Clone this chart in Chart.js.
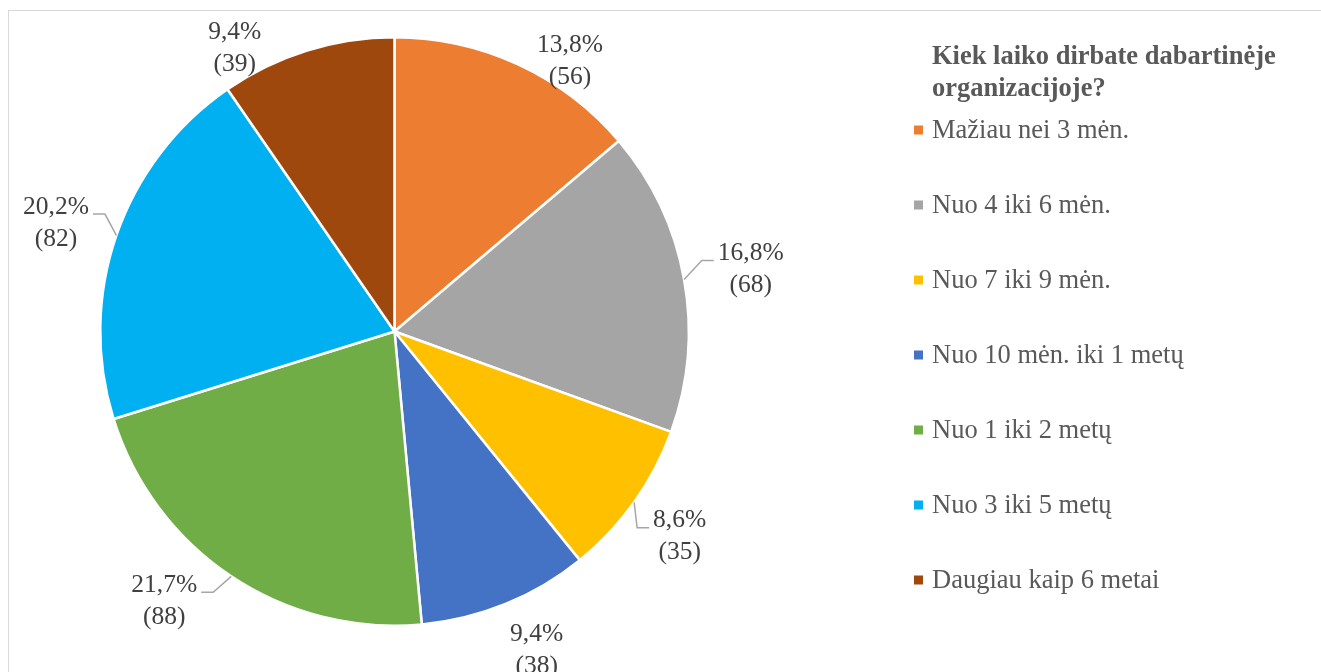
<!DOCTYPE html>
<html>
<head>
<meta charset="utf-8">
<title>Kiek laiko dirbate dabartinėje organizacijoje?</title>
<script src="https://cdn.jsdelivr.net/npm/chart.js@4.4.1/dist/chart.umd.min.js"></script>
<style>
    html, body { margin: 0; padding: 0; background: #fff; }
</style>
</head>
<body>
<canvas id="tenureChart" width="1321" height="672"></canvas>
<script>
// ------------------------------------------------------------------
//  Data
// ------------------------------------------------------------------
const categories = [
    'Mažiau nei 3 mėn.',
    'Nuo 4 iki 6 mėn.',
    'Nuo 7 iki 9 mėn.',
    'Nuo 10 mėn. iki 1 metų',
    'Nuo 1 iki 2 metų',
    'Nuo 3 iki 5 metų',
    'Daugiau kaip 6 metai'
];
const counts = [56, 68, 35, 38, 88, 82, 39];
const percentText = ['13,8%', '16,8%', '8,6%', '9,4%', '21,7%', '20,2%', '9,4%'];
const legendTitle = ['Kiek laiko dirbate dabartinėje', 'organizacijoje?'];

const sliceColors = ['#ED7D31', '#A5A5A5', '#FFC000', '#4472C4', '#70AD47', '#00B0F0', '#9E480E'];

// label placement: [angle shift in degrees, distance as share of radius]
const labelNudge = [[8, 1.10], [0, 1.23], [0, 1.19], [-2, 1.18], [7, 1.20], [-1, 1.21], [-12, 1.11]];
const withLeader = [false, true, true, false, true, true, false];

const SERIF = '"Liberation Serif", "Times New Roman", serif';

// ------------------------------------------------------------------
//  Plugins: outer frame, data labels, legend
// ------------------------------------------------------------------
const framePlugin = {
    id: 'frame',
    beforeDraw(chart) {
        const ctx = chart.ctx;
        ctx.save();
        ctx.fillStyle = '#fff';
        ctx.fillRect(0, 0, chart.width, chart.height);
        ctx.strokeStyle = '#D9D9D9';
        ctx.lineWidth = 1;
        ctx.strokeRect(8.5, 10.5, chart.width + 20, chart.height + 20);
        ctx.restore();
    }
};

const sliceLabels = {
    id: 'sliceLabels',
    afterDatasetsDraw(chart) {
        const ctx = chart.ctx;
        const arcs = chart.getDatasetMeta(0).data;
        ctx.save();
        ctx.font = '25.5px ' + SERIF;
        ctx.textAlign = 'center';
        ctx.textBaseline = 'middle';
        arcs.forEach((arc, i) => {
            const { x, y, startAngle, endAngle, outerRadius } = arc.getProps(['x', 'y', 'startAngle', 'endAngle', 'outerRadius'], true);
            const mid = (startAngle + endAngle) / 2;
            const [shift, dist] = labelNudge[i];
            const a = mid + shift * Math.PI / 180;
            const lx = x + dist * outerRadius * Math.cos(a);
            const ly = y + dist * outerRadius * Math.sin(a);
            const lines = [percentText[i], '(' + counts[i] + ')'];

            ctx.fillStyle = '#404040';
            ctx.fillText(lines[0], lx, ly - 14);
            ctx.fillText(lines[1], lx, ly + 18);

            if (withLeader[i]) {
                const w = Math.max(...lines.map(t => ctx.measureText(t).width));
                const right = Math.cos(mid) > 0;
                const edge = right ? lx - w / 2 - 4 : lx + w / 2 + 4;
                const elbow = right ? edge - 12 : edge + 12;
                const ey = ly - 7;
                ctx.beginPath();
                ctx.moveTo(edge, ey);
                ctx.lineTo(elbow, ey);
                ctx.lineTo(x + outerRadius * Math.cos(mid), y + outerRadius * Math.sin(mid));
                ctx.strokeStyle = '#A6A6A6';
                ctx.lineWidth = 1.5;
                ctx.stroke();
            }
        });
        ctx.restore();
    }
};

const sideLegend = {
    id: 'sideLegend',
    afterDraw(chart) {
        const ctx = chart.ctx;
        const colors = chart.data.datasets[0].backgroundColor;
        ctx.save();
        ctx.textAlign = 'left';
        ctx.textBaseline = 'alphabetic';
        ctx.fillStyle = '#595959';
        ctx.font = 'bold 26.5px ' + SERIF;
        legendTitle.forEach((t, i) => ctx.fillText(t, 932, 64 + i * 32));

        ctx.font = '26.5px ' + SERIF;
        ctx.textBaseline = 'middle';
        chart.data.labels.forEach((label, i) => {
            const cy = 130 + i * 75;
            ctx.fillStyle = colors[i];
            ctx.fillRect(914, cy - 4.5, 9, 9);
            ctx.fillStyle = '#595959';
            ctx.fillText(label, 932, cy + 1);
        });
        ctx.restore();
    }
};

// ------------------------------------------------------------------
//  Chart
// ------------------------------------------------------------------
new Chart(document.getElementById('tenureChart'), {
    type: 'pie',
    data: {
        labels: categories,
        datasets: [{
            data: counts,
            backgroundColor: sliceColors,
            borderColor: '#fff',
            borderWidth: 2.5
        }]
    },
    options: {
        responsive: false,
        animation: false,
        layout: { padding: { top: 36, bottom: 45, left: 99, right: 631 } },
        plugins: {
            legend: { display: false },
            tooltip: { enabled: false }
        }
    },
    plugins: [framePlugin, sliceLabels, sideLegend]
});
</script>
</body>
</html>
